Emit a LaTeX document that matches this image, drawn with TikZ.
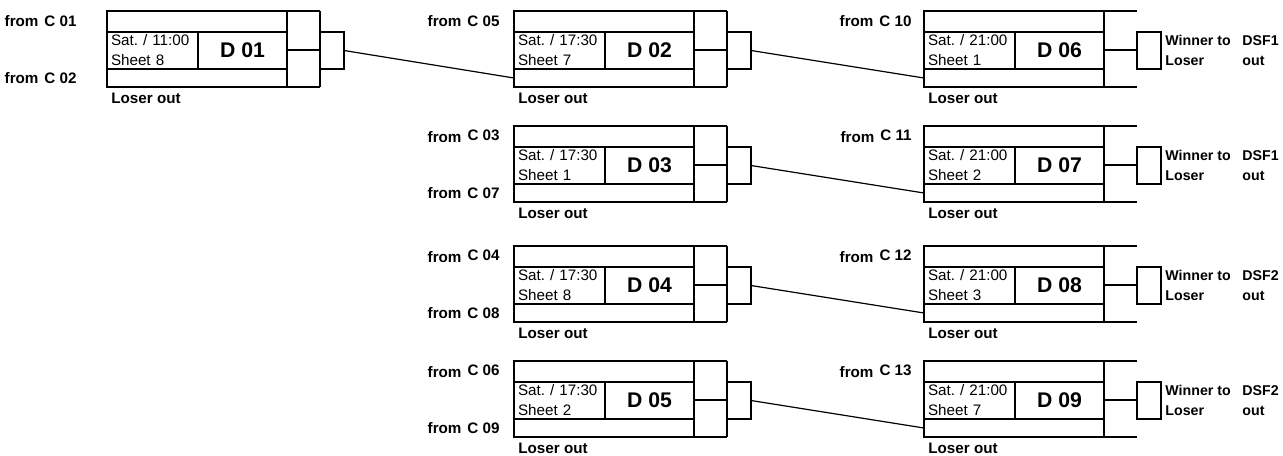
\documentclass[tikz,border=0pt]{standalone}
\usepackage{fontspec}
\setmainfont{Liberation Sans}
\usetikzlibrary{positioning}
\frenchspacing

\tikzset{
  rule/.style={line width=1pt},
  link/.style={line width=0.6pt},
  cell/.style={draw, rule, inner sep=0pt, outer sep=0pt, anchor=north west},
  slot/.style={inner sep=0pt, outer sep=0pt, anchor=north west, minimum width=16.5pt},
  info/.style={cell, minimum height=18.5pt, text width=41.5pt, inner xsep=2pt, align=left,
    font=\fontsize{7.6}{10}\selectfont},
  title/.style={cell, minimum width=44.5pt, minimum height=18.5pt,
    font=\fontsize{10.6}{12}\selectfont\bfseries},
  tag/.style={inner sep=1pt, align=left, font=\fontsize{7.6}{10}\selectfont\bfseries},
  dest/.style={tag, font=\fontsize{7.1}{9.8}\selectfont\bfseries}
}

% one game: name, top left corner, day/time, sheet, title, right edge
\newcommand\game[6]{%
  \coordinate (#1) at (#2);
  \node[cell, minimum width=90pt, minimum height=10.5pt] (#1top) at (#1) {};
  \node[info] (#1time) at ([yshift=-10.5pt]#1) {#3\\#4};
  \node[title] (#1lab) at (#1time.north east) {#5};
  \node[cell, minimum width=90pt, minimum height=9pt] (#1bot) at (#1time.south west) {};
  \node[slot, minimum height=19.5pt] (#1up) at (#1top.north east) {};
  \node[slot, minimum height=18.5pt] (#1dn) at (#1up.south west) {};
  \node[cell, minimum width=12pt, minimum height=18.5pt] (#1win) at (#1time.north -| #1up.east) {};
  \draw[rule] (#1up.north west) -- (#1up.north east)
    (#1up.south west) -- (#1up.south east)
    (#1dn.south west) -- (#1dn.south east);
  \draw[rule, #6] (#1up.north east) -- (#1dn.south east);
  \node[tag, anchor=west] (#1out) at ([shift={(1pt,-5.8pt)}]#1bot.south west) {Loser out};
}

\begin{document}
\begin{tikzpicture}[x=0.5pt, y=0.5pt]
 \useasboundingbox (0,0) rectangle (1283,-455);

 \game{D01}{107,-11}{Sat. / 11:00}{Sheet 8}{D 01}{}
 \game{D02}{514,-11}{Sat. / 17:30}{Sheet 7}{D 02}{}
 \game{D03}{514,-126}{Sat. / 17:30}{Sheet 1}{D 03}{}
 \game{D04}{514,-246}{Sat. / 17:30}{Sheet 8}{D 04}{}
 \game{D05}{514,-361}{Sat. / 17:30}{Sheet 2}{D 05}{}
 \game{D06}{924,-11}{Sat. / 21:00}{Sheet 1}{D 06}{draw=none}
 \game{D07}{924,-126}{Sat. / 21:00}{Sheet 2}{D 07}{draw=none}
 \game{D08}{924,-246}{Sat. / 21:00}{Sheet 3}{D 08}{draw=none}
 \game{D09}{924,-361}{Sat. / 21:00}{Sheet 7}{D 09}{draw=none}

 % where the players come from
 \node[tag] (c01) [left=14pt of D01top] {from\hspace{3pt}C 01};
 \node[tag] (c02) [left=14pt of D01bot] {from\hspace{3pt}C 02};
 \node[tag] (c05) [left=6pt of D02top] {from\hspace{3pt}C 05};
 \node[tag] (c03) [left=6pt of D03top] {from\hspace{3pt}\raisebox{1.2pt}{C 03}};
 \node[tag] (c07) [left=6pt of D03bot] {from\hspace{3pt}C 07};
 \node[tag] (c04) [left=6pt of D04top] {from\hspace{3pt}\raisebox{1.2pt}{C 04}};
 \node[tag] (c08) [left=6pt of D04bot] {from\hspace{3pt}C 08};
 \node[tag] (c06) [left=6pt of D05top] {from\hspace{3pt}\raisebox{1.2pt}{C 06}};
 \node[tag] (c09) [left=6pt of D05bot] {from\hspace{3pt}C 09};
 \node[tag] (c10) [left=5pt of D06top] {from\hspace{3pt}C 10};
 \node[tag] (c11) [left=5pt of D07top] {from\hspace{3pt}\raisebox{1.2pt}{C 11}};
 \node[tag] (c12) [left=5pt of D08top] {from\hspace{3pt}\raisebox{1.2pt}{C 12}};
 \node[tag] (c13) [left=5pt of D09top] {from\hspace{3pt}\raisebox{1.2pt}{C 13}};

 % where the players go
 \node[dest] (D06to) [right=1pt of D06win] {Winner to\\Loser};
 \node[dest] (D06dsf) [right=39.5pt of D06win] {DSF1\\out};
 \node[dest] (D07to) [right=1pt of D07win] {Winner to\\Loser};
 \node[dest] (D07dsf) [right=39.5pt of D07win] {DSF1\\out};
 \node[dest] (D08to) [right=1pt of D08win] {Winner to\\Loser};
 \node[dest] (D08dsf) [right=39.5pt of D08win] {DSF2\\out};
 \node[dest] (D09to) [right=1pt of D09win] {Winner to\\Loser};
 \node[dest] (D09dsf) [right=39.5pt of D09win] {DSF2\\out};

 \draw[link] (D01win.east) -- (D02bot.west);
 \draw[link] (D02win.east) -- (D06bot.west);
 \draw[link] (D03win.east) -- (D07bot.west);
 \draw[link] (D04win.east) -- (D08bot.west);
 \draw[link] (D05win.east) -- (D09bot.west);
\end{tikzpicture}
\end{document}
